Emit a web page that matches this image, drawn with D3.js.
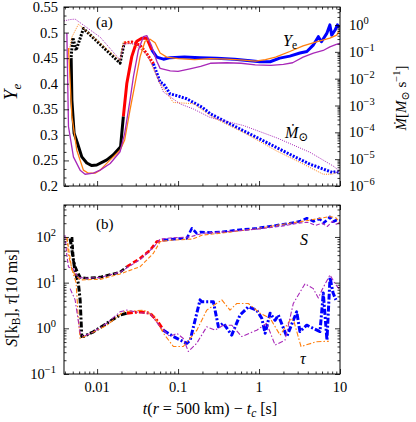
<!DOCTYPE html>
<html>
<head>
<meta charset="utf-8">
<script src="https://cdn.jsdelivr.net/npm/d3@7"></script>
<style>
  body { margin: 0; background: #fff; }
  text { font-family: "Liberation Serif", "DejaVu Serif", serif; fill: #000; }
</style>
</head>
<body>
<svg id="chart" width="416" height="422"></svg>
<script>
// ----------- DATA ----------------------------------
// [t - t_c (s), value]
// thick run: black before 0.02 s, red until ~0.05 s, blue after
const yeThick = [[0.00478,0.45],[0.00488,0.368],[0.0052,0.303],[0.00571,0.284],[0.00647,0.257],[0.00746,0.245],[0.0086,0.24],[0.0099,0.241],[0.0132,0.251],[0.0159,0.261],[0.0195,0.277],[0.0211,0.336],[0.0233,0.401],[0.0268,0.453],[0.0309,0.483],[0.0356,0.489],[0.0411,0.489],[0.0473,0.466],[0.0546,0.452],[0.066,0.448],[0.08,0.451],[0.12,0.452],[0.187,0.451],[0.3,0.45],[0.5,0.448],[0.775,0.445],[1.03,0.443],[1.37,0.443],[1.8,0.45],[2.4,0.454],[3.2,0.46],[3.9,0.463],[4.7,0.476],[5.4,0.492],[5.9,0.482],[6.9,0.499],[7.5,0.515],[7.9,0.495],[8.7,0.505],[9.3,0.515],[9.8,0.51]];
const yeOrange = [[0.00443,0.47],[0.00488,0.336],[0.00561,0.27],[0.00677,0.231],[0.00781,0.225],[0.00945,0.225],[0.0109,0.231],[0.0145,0.251],[0.0192,0.27],[0.0219,0.29],[0.0255,0.349],[0.0295,0.401],[0.034,0.453],[0.0391,0.483],[0.0451,0.487],[0.052,0.48],[0.06,0.46],[0.0725,0.452],[0.1,0.449],[0.16,0.447],[0.25,0.449],[0.4,0.448],[0.64,0.446],[0.9,0.444],[1.2,0.447],[1.6,0.452],[2.4,0.463],[3.5,0.474],[5.1,0.482],[7.5,0.489],[9.1,0.495],[9.9,0.505]];
const yePurple = [[0.00423,0.499],[0.00443,0.316],[0.0051,0.257],[0.00617,0.231],[0.0071,0.223],[0.009,0.225],[0.0109,0.231],[0.0145,0.244],[0.0192,0.267],[0.0219,0.303],[0.0255,0.368],[0.0281,0.414],[0.0324,0.466],[0.0373,0.492],[0.0411,0.494],[0.0473,0.473],[0.0546,0.444],[0.06,0.43],[0.08,0.425],[0.1,0.424],[0.14,0.429],[0.19,0.434],[0.25,0.44],[0.4,0.441],[0.6,0.44],[0.9,0.437],[1.4,0.436],[2.0,0.438],[2.6,0.441],[3.5,0.452],[4.7,0.46],[6.2,0.465],[7.5,0.472],[9.0,0.477],[10,0.479]];

// accretion rate, M_sun / s
const mdotThick = [[0.00478,0.064],[0.00501,0.34],[0.0055,0.114],[0.00678,0.74],[0.0114,0.168],[0.0192,0.038],[0.0216,0.214],[0.0268,0.233],[0.034,0.175],[0.0411,0.085],[0.0496,0.036],[0.06,0.0074],[0.0659,0.0065],[0.0797,0.0027],[0.0964,0.00234],[0.128,0.00178],[0.2,8.5e-4],[0.25,4.9e-4],[0.33,3.2e-4],[0.64,1.15e-4],[1.03,5.6e-5],[1.65,2.7e-5],[2.65,1.3e-5],[4.26,6.5e-6],[6.2,4.3e-6],[8.0,3.2e-6],[9.1,3.5e-6],[10,3e-6]];
const mdotOrange = [[0.00443,0.085],[0.00488,0.355],[0.00588,1.07],[0.0109,0.214],[0.0192,0.048],[0.0211,0.234],[0.0268,0.204],[0.0411,0.085],[0.0473,0.032],[0.06,0.0065],[0.0875,0.0013],[0.155,0.00117],[0.27,3.6e-4],[0.64,1.0e-4],[1.66,2.0e-5],[3.2,7.6e-6],[6.2,2.75e-6],[8.0,2.75e-6],[9.1,3.2e-6],[10,4e-6]];
const mdotPurple = [[0.0039,1.43],[0.00464,1.6],[0.00535,1.66],[0.0109,0.355],[0.0192,0.05],[0.0216,0.2],[0.03,0.2],[0.0411,0.08],[0.05,0.025],[0.0659,0.0032],[0.106,0.00115],[0.155,7.4e-4],[0.248,3.6e-4],[0.64,1.8e-4],[1.66,6.2e-5],[4.26,1.8e-5],[8.2,5.6e-6],[10,3.5e-6]];

// entropy (k_B)
const sThick = [[0.0049,100],[0.0051,30],[0.0055,20],[0.0062,13],[0.0075,12.5],[0.0109,13.2],[0.0192,17],[0.0233,22.4],[0.034,34],[0.045,51],[0.0546,79],[0.066,85],[0.1,92],[0.128,93],[0.148,155],[0.17,120],[0.19,128],[0.248,125],[0.36,130],[0.5,140],[0.94,155],[1.5,175],[2.4,200],[3.2,220],[3.9,257],[4.7,220],[5.6,250],[6.2,200],[7.2,250],[7.5,275],[8.2,215],[9.1,235],[10,230]];
const sOrange = [[0.00423,100],[0.00488,19],[0.00535,14.8],[0.00617,11.5],[0.0109,11.8],[0.0192,15.5],[0.034,22.4],[0.0496,44],[0.06,79],[0.08,85],[0.15,90],[0.2,110],[0.4,125],[0.9,150],[2,190],[4,230],[6,260],[7.5,280],[9,260],[10,200]];
const sPurple = [[0.004,110],[0.00423,40],[0.00443,22],[0.0051,20],[0.0058,13],[0.0075,12.5],[0.0109,13],[0.0192,17],[0.034,32],[0.05,60],[0.06,90],[0.08,95],[0.14,100],[0.2,120],[0.5,135],[1,150],[2,175],[3,200],[4,210],[5,180],[6,200],[7,170],[8,220],[9,190],[10,210]];

// expansion timescale (10 ms)
const tauThick = [[0.00464,93],[0.0051,31],[0.00535,17.4],[0.00588,9.5],[0.00617,4.2],[0.00647,0.66],[0.00677,0.66],[0.009,0.84],[0.0132,1.29],[0.0192,1.95],[0.0233,2.14],[0.034,2.3],[0.0451,2.14],[0.0546,1.5],[0.0659,0.91],[0.0875,0.66],[0.128,0.47],[0.141,0.55],[0.187,4.2],[0.196,3.8],[0.273,3.8],[0.315,1.08],[0.362,1.29],[0.46,0.71],[0.582,1.95],[0.738,2.95],[0.937,2.5],[1.08,1.66],[1.19,0.78],[1.37,2.14],[1.58,1.5],[1.73,1.95],[2.2,0.66],[2.42,1.0],[2.92,2.3],[3.2,0.85],[3.88,1.17],[5.66,0.85],[6.22,5.9],[6.9,0.55],[7.53,13],[8.2,6],[8.9,4.2]];
const tauOrange = [[0.00423,100],[0.00443,40],[0.0051,15],[0.0055,10],[0.00588,1.5],[0.00617,0.6],[0.0075,0.7],[0.0132,1.17],[0.0211,2.3],[0.0373,2.5],[0.0496,1.95],[0.0659,0.78],[0.0875,0.4],[0.116,0.4],[0.17,0.9],[0.226,2.5],[0.347,4.2],[0.438,2.5],[0.531,3.5],[0.738,3.5],[1.03,2.14],[1.37,1.66],[1.82,0.71],[2.5,1.66],[2.7,1.4],[3.3,0.4],[5.15,0.51],[7.3,0.52]];
const tauPurple = [[0.00464,7.4],[0.00535,4.2],[0.00617,0.78],[0.00677,0.66],[0.009,0.84],[0.0132,1.29],[0.0192,2.3],[0.0233,2.5],[0.034,2.2],[0.045,2.14],[0.06,1.08],[0.0797,0.66],[0.0964,0.78],[0.116,0.6],[0.134,0.31],[0.17,0.47],[0.226,1.08],[0.286,0.91],[0.362,1.17],[0.46,1.17],[0.611,0.66],[0.937,0.91],[1.24,1.29],[1.58,0.43],[2.09,0.55],[2.65,3.5],[3.7,9.5],[4.68,7.4],[5.4,4.6],[6.0,7],[7.53,14.8],[8.68,9.5],[10,6.9]];

// tick values
const xMajor = [0.01, 0.1, 1, 10];
const xLabels = ["0.01", "0.1", "1", "10"];
const yeMajor = [0.2, 0.25, 0.3, 0.35, 0.4, 0.45, 0.5, 0.55];
const yeLabels = ["0.2", "0.25", "0.3", "0.35", "0.4", "0.45", "0.5", "0.55"];
const mdotExp = [-6, -5, -4, -3, -2, -1, 0];
const bottomExp = [-1, 0, 1, 2];

// ----------- LAYOUT ------------
const LEFT = 64, RIGHT = 340;
const TOP_A = 7, BOT_A = 186;
const TOP_B = 205, BOT_B = 374;
const BLACK = "#000000", RED = "#ff0000", BLUE = "#0000ff";
const ORANGE = "#ff7f0e", PURPLE = "#a828b8";

const svg = d3.select("#chart");

const x = d3.scaleLog().domain([0.0039, 10]).range([LEFT, RIGHT]);
const yYe = d3.scaleLinear().domain([0.2, 0.55]).range([BOT_A, TOP_A]);
const yMdot = d3.scaleLog().domain([1e-6, 4.7]).range([BOT_A, TOP_A]);
const yB = d3.scaleLog().domain([0.1, 501]).range([BOT_B, TOP_B]);

// minor ticks of a log axis between two values
const logMinor = (lo, hi) => {
    const out = [];
    for (let e = Math.floor(Math.log10(lo)); e <= Math.ceil(Math.log10(hi)); e++) {
        for (let m = 2; m <= 9; m++) {
            const v = m * Math.pow(10, e);
            if (v > lo && v < hi) out.push(v);
        }
    }
    return out;
}

// draw inward ticks with no labels
const ticks = (axisFn, scale, values, size, transform) => {
    const g = svg.append("g")
        .attr("transform", transform)
        .call(axisFn(scale).tickValues(values).tickSize(-size).tickFormat(""));
    g.select(".domain").remove();
    g.selectAll("line").attr("stroke", "#000").attr("stroke-width", 0.8);
}

const frameTicks = (yScale, yMajorVals, yMinorVals, top, bottom, yRight, yRightMajor, yRightMinor) => {
    const xMinor = logMinor(0.0039, 10);
    ticks(d3.axisBottom, x, xMajor, 5, `translate(0,${bottom})`);
    ticks(d3.axisBottom, x, xMinor, 2.5, `translate(0,${bottom})`);
    ticks(d3.axisTop, x, xMajor, 5, `translate(0,${top})`);
    ticks(d3.axisTop, x, xMinor, 2.5, `translate(0,${top})`);
    ticks(d3.axisLeft, yScale, yMajorVals, 5, `translate(${LEFT},0)`);
    ticks(d3.axisLeft, yScale, yMinorVals, 2.5, `translate(${LEFT},0)`);
    ticks(d3.axisRight, yRight, yRightMajor, 5, `translate(${RIGHT},0)`);
    ticks(d3.axisRight, yRight, yRightMinor, 2.5, `translate(${RIGHT},0)`);
    svg.append("rect")
        .attr("x", LEFT).attr("y", top)
        .attr("width", RIGHT - LEFT).attr("height", bottom - top)
        .attr("fill", "none").attr("stroke", "#000").attr("stroke-width", 1);
}

// "10" with a raised exponent
const powLabel = (px, py, exp, anchor) => {
    const t = svg.append("text")
        .attr("x", px).attr("y", py)
        .attr("text-anchor", anchor)
        .attr("font-size", 14.5)
        .text("10");
    t.append("tspan").attr("dy", -6).attr("font-size", 10.5)
        .text(exp < 0 ? "\u2212" + (-exp) : String(exp));
}

// split the thick run into coloured pieces that join up
const pieces = (data, cuts) => {
    const out = [];
    const edges = [-Infinity, ...cuts, Infinity];
    for (let i = 0; i < edges.length - 1; i++) {
        const seg = data.filter(d => d[0] >= edges[i] && d[0] < edges[i + 1]);
        const next = data.find(d => d[0] >= edges[i + 1]);
        if (next) seg.push(next);
        out.push(seg);
    }
    return out;
}

const plot = (data, yScale, color, width, dash, clipId) => {
    const line = d3.line().x(d => x(d[0])).y(d => yScale(d[1]));
    svg.append("path")
        .datum(data)
        .attr("d", line)
        .attr("fill", "none")
        .attr("stroke", color)
        .attr("stroke-width", width)
        .attr("stroke-dasharray", dash)
        .attr("stroke-linejoin", "round")
        .attr("clip-path", `url(#${clipId})`);
}

// clip regions
const defs = svg.append("defs");
defs.append("clipPath").attr("id", "clipA").append("rect")
    .attr("x", LEFT).attr("y", TOP_A).attr("width", RIGHT - LEFT).attr("height", BOT_A - TOP_A);
defs.append("clipPath").attr("id", "clipB").append("rect")
    .attr("x", LEFT).attr("y", TOP_B).attr("width", RIGHT - LEFT).attr("height", BOT_B - TOP_B);

const runColors = [BLACK, RED, BLUE];

// ----------- PANEL (a) ------------
pieces(mdotThick, [0.02, 0.046]).forEach((seg, i) => plot(seg, yMdot, runColors[i], 3, "2,1.4", "clipA"));
pieces(yeThick, [0.02, 0.046]).forEach((seg, i) => plot(seg, yYe, runColors[i], 3, null, "clipA"));
plot(mdotOrange, yMdot, ORANGE, 1, "1,1.2", "clipA");
plot(mdotPurple, yMdot, PURPLE, 1, "1,1.2", "clipA");
plot(yeOrange, yYe, ORANGE, 1.3, null, "clipA");
plot(yePurple, yYe, PURPLE, 1.3, null, "clipA");

const yeMinor = d3.range(0.2, 0.55, 0.05 / 3).filter(v => !yeMajor.some(m => Math.abs(m - v) < 1e-6));
frameTicks(yYe, yeMajor, yeMinor, TOP_A, BOT_A,
    yMdot, mdotExp.map(e => Math.pow(10, e)), logMinor(1e-6, 4.7));

yeMajor.forEach((v, i) => {
    svg.append("text").attr("x", 58).attr("y", yYe(v) + 5)
        .attr("text-anchor", "end").attr("font-size", 14.5).text(yeLabels[i]);
});
mdotExp.forEach(e => powLabel(349, yMdot(Math.pow(10, e)) + 5, e, "start"));

svg.append("text").attr("x", 96).attr("y", 27).attr("font-size", 15).text("(a)");

// Y_e axis label
const yeLab = svg.append("text")
    .attr("transform", "translate(17,92) rotate(-90)")
    .attr("text-anchor", "middle").attr("font-size", 19);
yeLab.append("tspan").attr("font-style", "italic").text("Y");
yeLab.append("tspan").attr("font-style", "italic").attr("font-size", 13).attr("dy", 4).text("e");

// Mdot axis label
const mLab = svg.append("text")
    .attr("transform", "translate(406,98) rotate(-90)")
    .attr("text-anchor", "middle").attr("font-size", 15);
mLab.append("tspan").attr("font-style", "italic").text("M\u0307");
mLab.append("tspan").text("[");
mLab.append("tspan").attr("font-style", "italic").text("M");
mLab.append("tspan").attr("font-size", 11).attr("dy", 3).text("\u2299");
mLab.append("tspan").attr("dy", -3).text(" s");
mLab.append("tspan").attr("font-size", 10.5).attr("dy", -6).text("\u22121");
mLab.append("tspan").attr("dy", 6).text("]");

// in-panel annotations
const yeAnn = svg.append("text").attr("x", 283).attr("y", 46).attr("font-size", 16);
yeAnn.append("tspan").attr("font-style", "italic").text("Y");
yeAnn.append("tspan").attr("font-size", 11.5).attr("dy", 3).text("e");

const mAnn = svg.append("text").attr("x", 285).attr("y", 138).attr("font-size", 16);
mAnn.append("tspan").attr("font-style", "italic").text("M\u0307");
mAnn.append("tspan").attr("font-size", 12).attr("dy", 3).text("\u2299");

// ----------- PANEL (b) ------------
pieces(sThick, [0.02, 0.055]).forEach((seg, i) => plot(seg, yB, runColors[i], 2.6, "5,2.5", "clipB"));
pieces(tauThick, [0.02, 0.055]).forEach((seg, i) => plot(seg, yB, runColors[i], 3, "6,2,2,2", "clipB"));
plot(sOrange, yB, ORANGE, 1.1, "4,2", "clipB");
plot(sPurple, yB, PURPLE, 1.1, "4,2", "clipB");
plot(tauOrange, yB, ORANGE, 1.1, "5,2,1.5,2", "clipB");
plot(tauPurple, yB, PURPLE, 1.1, "5,2,1.5,2", "clipB");

const bMajor = bottomExp.map(e => Math.pow(10, e));
frameTicks(yB, bMajor, logMinor(0.1, 501), TOP_B, BOT_B,
    yB, bMajor, logMinor(0.1, 501));

bottomExp.forEach(e => powLabel(56, yB(Math.pow(10, e)) + 5, e, "end"));
xMajor.forEach((v, i) => {
    svg.append("text").attr("x", x(v)).attr("y", 392)
        .attr("text-anchor", "middle").attr("font-size", 14.5).text(xLabels[i]);
});

svg.append("text").attr("x", 96).attr("y", 229).attr("font-size", 15).text("(b)");
svg.append("text").attr("x", 300).attr("y", 245).attr("font-size", 16).attr("font-style", "italic").text("S");
svg.append("text").attr("x", 300).attr("y", 364).attr("font-size", 16).attr("font-style", "italic").text("\u03c4");

// S, tau axis label
const bLab = svg.append("text")
    .attr("transform", "translate(17,298) rotate(-90)")
    .attr("text-anchor", "middle").attr("font-size", 16);
bLab.append("tspan").attr("font-style", "italic").text("S");
bLab.append("tspan").text("[k");
bLab.append("tspan").attr("font-size", 11.5).attr("dy", 3).text("B");
bLab.append("tspan").attr("dy", -3).text("], ");
bLab.append("tspan").attr("font-style", "italic").text("\u03c4");
bLab.append("tspan").text("[10 ms]");

// x axis label
const xLab = svg.append("text")
    .attr("x", 210).attr("y", 414)
    .attr("text-anchor", "middle").attr("font-size", 16);
xLab.append("tspan").attr("font-style", "italic").text("t");
xLab.append("tspan").text("(");
xLab.append("tspan").attr("font-style", "italic").text("r");
xLab.append("tspan").text(" = 500 km) \u2212 ");
xLab.append("tspan").attr("font-style", "italic").text("t");
xLab.append("tspan").attr("font-style", "italic").attr("font-size", 11.5).attr("dy", 3).text("c");
xLab.append("tspan").attr("dy", -3).text(" [s]");
</script>
</body>
</html>
